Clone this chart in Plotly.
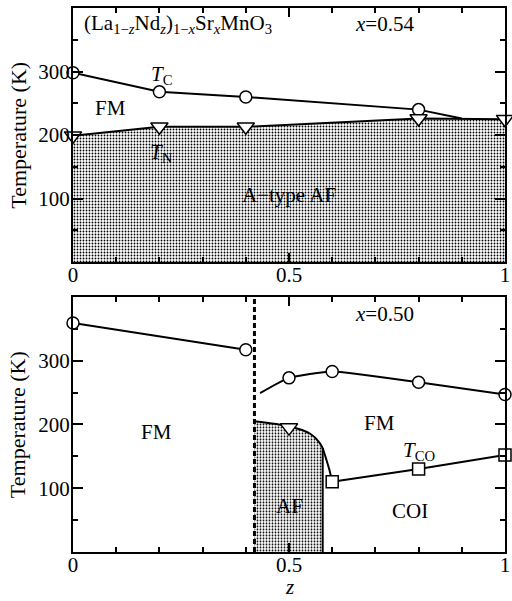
import plotly.graph_objects as go

# ---------------- data ----------------
# top panel  x = 0.54
top_tc_z = [0.0, 0.2, 0.4, 0.8]
top_tc_T = [298, 268, 260, 240]
top_tc_line_z = [0.0, 0.2, 0.4, 0.8, 0.9]
top_tc_line_T = [298, 268, 260, 240, 226]
top_tn_z = [0.0, 0.2, 0.4, 0.8, 1.0]
top_tn_T = [199, 213, 213, 226, 225]

# bottom panel  x = 0.50
bot_tc_left_z = [0.0, 0.4]
bot_tc_left_T = [359, 317]
bot_tc_right_line_z = [0.433, 0.5, 0.6, 0.8, 1.0]
bot_tc_right_line_T = [249, 273, 283, 266, 247]
bot_tc_right_z = [0.5, 0.6, 0.8, 1.0]
bot_tc_right_T = [273, 283, 266, 247]
bot_tn_z = [0.5]
bot_tn_T = [195]
af_boundary_z = [0.42, 0.5, 0.55, 0.57, 0.578]
af_boundary_T = [205, 197, 185, 172, 163]
af_edge_z = 0.578
af_to_co_z = [0.578, 0.585, 0.593, 0.6]
af_to_co_T = [163, 148, 130, 110]
tco_z = [0.6, 0.8, 1.0]
tco_T = [110, 130, 152]
phase_sep_z = 0.42

FONT = "Liberation Serif"
FS = 21
LW = 2

fig = go.Figure()

pattern = dict(shape=".", size=3, solidity=0.3, fgcolor="black", bgcolor="white", fillmode="replace")

# ---- top panel ----
fig.add_trace(go.Scatter(x=top_tn_z, y=top_tn_T, mode="lines", fill="tozeroy",
                         fillcolor="white", fillpattern=pattern,
                         line=dict(color="black", width=LW), xaxis="x", yaxis="y",
                         showlegend=False, cliponaxis=False))
fig.add_trace(go.Scatter(x=top_tc_line_z, y=top_tc_line_T, mode="lines",
                         line=dict(color="black", width=LW), xaxis="x", yaxis="y",
                         showlegend=False, cliponaxis=False))
fig.add_trace(go.Scatter(x=top_tc_z, y=top_tc_T, mode="markers",
                         marker=dict(symbol="circle", size=12, color="white",
                                     line=dict(color="black", width=1.5)),
                         xaxis="x", yaxis="y", showlegend=False, cliponaxis=False))
fig.add_trace(go.Scatter(x=top_tn_z, y=top_tn_T, mode="markers",
                         marker=dict(symbol="triangle-down", size=15, color="white",
                                     line=dict(color="black", width=1.5)),
                         xaxis="x", yaxis="y", showlegend=False, cliponaxis=False))

# ---- bottom panel ----
af_x = [af_boundary_z[0]] + af_boundary_z + [af_edge_z, af_boundary_z[0]]
af_y = [0] + af_boundary_T + [0, 0]
fig.add_trace(go.Scatter(x=af_x, y=af_y, mode="lines", fill="toself",
                         fillcolor="white", fillpattern=pattern,
                         line=dict(color="rgba(0,0,0,0)", width=0), xaxis="x2", yaxis="y2",
                         showlegend=False, hoverinfo="skip"))
fig.add_trace(go.Scatter(x=af_boundary_z, y=af_boundary_T, mode="lines",
                         line=dict(color="black", width=LW, shape="spline", smoothing=0.8),
                         xaxis="x2", yaxis="y2", showlegend=False))
fig.add_trace(go.Scatter(x=[af_edge_z, af_edge_z], y=[0, af_boundary_T[-1]], mode="lines",
                         line=dict(color="black", width=LW), xaxis="x2", yaxis="y2",
                         showlegend=False))
fig.add_trace(go.Scatter(x=af_to_co_z, y=af_to_co_T, mode="lines",
                         line=dict(color="black", width=LW, shape="spline", smoothing=0.8),
                         xaxis="x2", yaxis="y2", showlegend=False))
fig.add_trace(go.Scatter(x=[phase_sep_z, phase_sep_z], y=[0, 400], mode="lines",
                         line=dict(color="black", width=3, dash="5px,3px"),
                         xaxis="x2", yaxis="y2", showlegend=False))
fig.add_trace(go.Scatter(x=bot_tc_left_z, y=bot_tc_left_T, mode="lines+markers",
                         line=dict(color="black", width=LW),
                         marker=dict(symbol="circle", size=12, color="white",
                                     line=dict(color="black", width=1.5)),
                         xaxis="x2", yaxis="y2", showlegend=False, cliponaxis=False))
fig.add_trace(go.Scatter(x=bot_tc_right_line_z, y=bot_tc_right_line_T, mode="lines",
                         line=dict(color="black", width=LW, shape="spline", smoothing=0.5),
                         xaxis="x2", yaxis="y2", showlegend=False, cliponaxis=False))
fig.add_trace(go.Scatter(x=bot_tc_right_z, y=bot_tc_right_T, mode="markers",
                         marker=dict(symbol="circle", size=12, color="white",
                                     line=dict(color="black", width=1.5)),
                         xaxis="x2", yaxis="y2", showlegend=False, cliponaxis=False))
fig.add_trace(go.Scatter(x=tco_z, y=tco_T, mode="lines+markers",
                         line=dict(color="black", width=LW),
                         marker=dict(symbol="square", size=12, color="white",
                                     line=dict(color="black", width=1.5)),
                         xaxis="x2", yaxis="y2", showlegend=False, cliponaxis=False))
fig.add_trace(go.Scatter(x=bot_tn_z, y=bot_tn_T, mode="markers",
                         marker=dict(symbol="triangle-down", size=15, color="white",
                                     line=dict(color="black", width=1.5)),
                         xaxis="x2", yaxis="y2", showlegend=False, cliponaxis=False))

xaxis_common = dict(range=[0, 1], tickvals=[0, 0.5, 1], ticktext=["0", "0.5", "1"],
                    ticks="inside", ticklen=9, tickwidth=1.5, tickcolor="black",
                    minor=dict(dtick=0.1, tick0=0, ticks="inside", ticklen=5,
                               tickwidth=1.5, tickcolor="black"),
                    showline=True, linecolor="black", linewidth=2, mirror="allticks",
                    showgrid=False, zeroline=False, ticklabeloverflow="allow",
                    ticklabelstandoff=-7,
                    tickfont=dict(family=FONT, size=FS, color="black"))
yaxis_common = dict(range=[0, 400], tickvals=[100, 200, 300],
                    ticks="inside", ticklen=10, tickwidth=1.5, tickcolor="black",
                    minor=dict(dtick=50, tick0=0, ticks="inside", ticklen=5,
                               tickwidth=1.5, tickcolor="black"),
                    showline=True, linecolor="black", linewidth=2, mirror="allticks",
                    showgrid=False, zeroline=False, ticklabelstandoff=-3,
                    tickfont=dict(family=FONT, size=FS, color="black"))

fig.update_layout(
    width=512, height=601,
    margin=dict(l=73, r=2, t=8, b=49),
    paper_bgcolor="white", plot_bgcolor="white",
    xaxis=dict(xaxis_common, anchor="y"),
    yaxis=dict(yaxis_common, domain=[0.533, 1.0], anchor="x"),
    xaxis2=dict(xaxis_common, anchor="y2"),
    yaxis2=dict(yaxis_common, domain=[0.0, 0.469], anchor="x2"),
    font=dict(family=FONT, size=FS, color="black"),
)

def ann(text, x, y, xref, yref, size=FS, xanchor="center", **kw):
    fig.add_annotation(text=text, x=x, y=y, xref=xref, yref=yref, showarrow=False,
                       xanchor=xanchor, yanchor="middle",
                       font=dict(family=FONT, size=size, color="black"), **kw)

# top annotations
ann("(La<sub>1−<i>z</i></sub>Nd<sub><i>z</i></sub>)<sub>1−<i>x</i></sub>Sr<sub><i>x</i></sub>MnO<sub>3</sub>",
    0.02, 375, "x", "y", xanchor="left")
ann("<i>x</i>=0.54", 0.72, 375, "x", "y")
ann("<i>T</i><sub>C</sub>", 0.205, 294, "x", "y")
ann("<i>T</i><sub>N</sub>", 0.205, 172, "x", "y")
ann("FM", 0.087, 243, "x", "y")
ann("A−type AF", 0.5, 105, "x", "y")

# bottom annotations
ann("<i>x</i>=0.50", 0.72, 373, "x2", "y2")
ann("FM", 0.193, 188, "x2", "y2")
ann("FM", 0.71, 203, "x2", "y2")
ann("<i>T</i><sub>CO</sub>", 0.80, 158, "x2", "y2")
ann("AF", 0.5, 72, "x2", "y2")
ann("COI", 0.78, 65, "x2", "y2")

# axis titles
ann("Temperature (K)", -0.128, 0.5, "paper", "y domain", size=22, textangle=-90)
ann("Temperature (K)", -0.128, 0.5, "paper", "y2 domain", size=22, textangle=-90)
ann("<i>z</i>", 0.5, -0.064, "paper", "paper")

fig.write_html("out.html")
